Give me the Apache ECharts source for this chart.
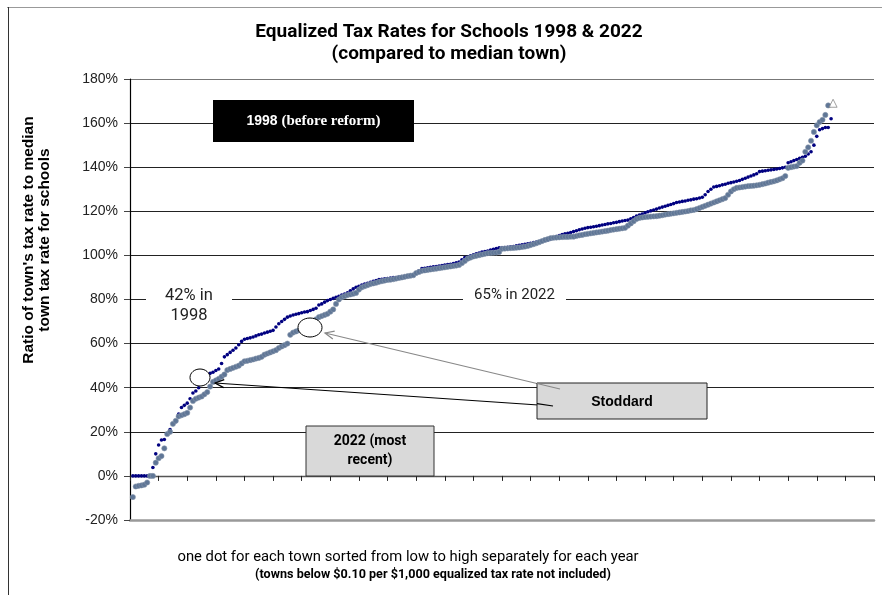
<!DOCTYPE html>
<html>
<head>
<meta charset="utf-8">
<script src="https://cdn.jsdelivr.net/npm/echarts@6/dist/echarts.min.js"></script>
<style>
html,body{margin:0;padding:0;background:#fff;}
#chart{width:882px;height:595px;}
</style>
</head>
<body>
<div id="chart"></div>
<script>
// ---- data (ratio of town's rate to median, in %) ----
const rate1998 = [
0,0,0,0,0,0,0,3.8,10,14,
16.3,16.5,19,21,23.6,24.6,28,31,32,33,
35,37.6,38.5,40,42,44,46,46.5,47,47.8,
48.5,51,54,55,56,57,58,59.5,61,62,
62.3,62.6,63,63.5,64,64.3,64.8,65.2,65.6,66,
67.5,69,70,71,72,72.5,73,73.3,73.6,74,
74.3,74.5,75,75.5,76,77.5,78,78.8,79.5,80,
80.5,81,81.5,82,82.5,83,84,84.8,85.5,86,
86.5,87,87.4,87.8,88.2,88.6,89,89.2,89.4,89.5,
89.7,89.9,90,90.2,90.4,90.5,90.7,90.9,91,92,
93,94,94.2,94.4,94.6,94.8,95,95.2,95.4,95.6,
95.8,96,96.3,96.6,97,98,99,99.3,99.8,100.3,
100.7,101.1,101.5,101.8,102,102.4,102.8,103.1,103.4,103.5,
103.6,103.7,103.9,104,104.3,104.6,104.8,105,105.3,105.5,
105.8,106,106.3,106.6,106.8,107,107.5,108,108.5,109,
109.4,109.8,110,110.4,110.8,111.2,111.6,112,112.3,112.6,
112.8,113,113.2,113.5,113.8,114,114.3,114.5,114.8,115,
115.3,115.6,115.8,116,116.6,117.2,117.8,118.3,118.8,119.3,
119.8,120.2,120.6,121,121.5,121.9,122.3,122.7,123.1,123.5,
124,124.2,124.5,124.7,125,125.2,125.5,125.7,126,126.4,
127.5,129,130,131,131.3,131.6,132,132.3,132.7,133,
133.3,133.6,134,134.5,135,135.5,136,136.5,137,138,
138.2,138.4,138.6,138.8,139,139.2,139.4,139.7,140,142,
142.5,143,143.5,144,144.5,145,146,147,150,154,
157,157.5,158,158,162
];
const rate2022 = [
-9.6,-4.8,-4.5,-4.3,-4,-3,0,0,6,8,
9,12.5,19,20,23.6,25,27,27.5,28,28.6,
31,34,35,35.5,36,37,38,40.5,42.6,43.3,
44,45,46,48,48.5,49,49.5,50,51,52,
52.2,52.5,52.8,53.2,53.5,54,55,55.5,56,56.5,
57,58,58.7,59.3,60,64,65,65.5,66,66.5,
67,68,69,70,71,72,72.5,73,73.5,74.5,
75.5,78,80,81,81.5,82,82.3,82.6,83,84.5,
85.5,86,86.5,87,87.3,87.6,88,88.3,88.6,88.9,
89,89.2,89.5,89.8,90,90.3,90.6,90.8,91,92,
92.5,93,93.2,93.4,93.6,93.8,94,94.2,94.4,94.6,
94.8,95,95.2,95.4,95.7,96.5,97.5,98.5,99,99.5,
99.8,100.1,100.4,100.7,101,101.1,101.2,101.3,101.5,103,
103.1,103.2,103.3,103.4,103.5,103.6,103.8,104,104.3,104.7,
105.1,105.5,106,106.5,107,107.4,107.8,108,108.1,108.2,
108.3,108.4,108.4,108.5,108.5,108.8,109.1,109.3,109.6,109.8,
110,110.2,110.4,110.6,110.8,111,111.2,111.5,111.7,111.9,
112.1,112.3,112.5,113.5,114.5,115.5,116.5,117,117.2,117.4,
117.5,117.6,117.7,117.8,118,118.2,118.5,118.7,118.9,119.1,
119.3,119.5,119.7,119.9,120.1,120.4,120.6,121,121.5,122,
122.5,123,123.5,124,124.5,125,125.5,126,127.5,129,
130,130.6,130.8,131,131.2,131.4,131.5,131.6,131.8,132,
132.3,132.6,133,133.3,133.6,134,134.5,135,136,139.7,
140,140.3,140.5,142,143,147,149,152,156,159,
160.5,161.5,163.7,168
];
const triangleMark = [[245.7, 169]];
const titleLines = ['Equalized Tax Rates for Schools 1998 & 2022', '(compared to median town)'];
const yAxisTitle = ["Ratio of town's tax rate to median", 'town tax rate for schools'];
const footLines = ['one dot for each town sorted from low to high separately for each year',
                   '(towns below $0.10 per $1,000 equalized tax rate not included)'];

// ---- chart ----
const chart = echarts.init(document.getElementById('chart'), null, {renderer: 'canvas'});

function arrow(x1, y1, x2, y2, color, width) {
  const dx = x2 - x1, dy = y2 - y1, L = Math.hypot(dx, dy);
  const ux = dx / L, uy = dy / L, px = -uy, py = ux;
  const hl = 9, hw = 4;
  return [
    {type: 'line', z: 110, shape: {x1, y1, x2, y2}, style: {stroke: color, lineWidth: width}},
    {type: 'polyline', z: 110, shape: {points: [
      [x2 - ux * hl + px * hw, y2 - uy * hl + py * hw], [x2, y2],
      [x2 - ux * hl - px * hw, y2 - uy * hl - py * hw]]},
     style: {stroke: color, lineWidth: width, fill: null}}
  ];
}

const FONT = 'Roboto, "Noto Sans", sans-serif';
const ARIAL = '"Liberation Sans", Arial, sans-serif';

const graphics = [
  // outer frame
  {type: 'line', z: 1, shape: {x1: 7, y1: 7.5, x2: 882, y2: 7.5}, style: {stroke: '#999', lineWidth: 1.2}},
  {type: 'line', z: 1, shape: {x1: 8.5, y1: 7, x2: 8.5, y2: 595}, style: {stroke: '#333', lineWidth: 1}},
  // title
  {type: 'text', z: 100, x: 449, y: 32, style: {text: titleLines[0], font: 'bold 19px ' + FONT, fill: '#000', textAlign: 'center', textVerticalAlign: 'middle'}},
  {type: 'text', z: 100, x: 449, y: 54, style: {text: titleLines[1], font: 'bold 19px ' + FONT, fill: '#000', textAlign: 'center', textVerticalAlign: 'middle'}},
  // y axis title
  {type: 'text', z: 100, x: 36.5, y: 240, rotation: Math.PI / 2,
   style: {text: yAxisTitle.join('\n'), font: 'bold 15.5px ' + ARIAL, lineHeight: 16, fill: '#000', textAlign: 'center', textVerticalAlign: 'middle'}},
  // footer
  {type: 'text', z: 100, x: 408, y: 557, style: {text: footLines[0], font: '14.8px ' + FONT, fill: '#000', textAlign: 'center', textVerticalAlign: 'middle'}},
  {type: 'text', z: 100, x: 433, y: 575, style: {text: footLines[1], font: 'bold 12.6px ' + FONT, fill: '#000', textAlign: 'center', textVerticalAlign: 'middle'}},
  // black box 1998
  {type: 'rect', z: 100, shape: {x: 213, y: 100, width: 201, height: 42}, style: {fill: '#000'}},
  {type: 'text', z: 101, x: 313.5, y: 121, style: {
    rich: {a: {font: 'bold 14px ' + ARIAL, fill: '#fff'}, b: {font: 'bold 15px "Liberation Serif", "Times New Roman", serif', fill: '#fff'}},
    text: '{a|1998 }{b|(before reform)}', textAlign: 'center', textVerticalAlign: 'middle'}},
  // 42% in 1998 label
  {type: 'rect', z: 100, shape: {x: 146, y: 284, width: 86, height: 40}, style: {fill: '#fff'}},
  {type: 'text', z: 101, x: 189, y: 306, style: {text: '42% in\n1998', font: '16.5px ' + FONT, lineHeight: 20, fill: '#222', textAlign: 'center', textVerticalAlign: 'middle'}},
  // 65% in 2022 label
  {type: 'rect', z: 100, shape: {x: 463, y: 285, width: 103, height: 20}, style: {fill: '#fff'}},
  {type: 'text', z: 101, x: 514.5, y: 295, style: {text: '65% in 2022', font: '15px ' + FONT, fill: '#222', textAlign: 'center', textVerticalAlign: 'middle'}},
  // 2022 box
  {type: 'rect', z: 100, shape: {x: 306, y: 426, width: 128, height: 50}, style: {fill: '#d9d9d9', stroke: '#333', lineWidth: 1}},
  {type: 'text', z: 101, x: 370, y: 451, style: {text: '2022 (most\nrecent)', font: 'bold 14px ' + FONT, lineHeight: 19, fill: '#000', textAlign: 'center', textVerticalAlign: 'middle'}},
  // ovals
  {type: 'ellipse', z: 105, shape: {cx: 200, cy: 377.5, rx: 10, ry: 8.5}, style: {fill: '#fff', stroke: '#000', lineWidth: 1}},
  {type: 'ellipse', z: 105, shape: {cx: 310, cy: 327.5, rx: 12, ry: 9.5}, style: {fill: '#fff', stroke: '#000', lineWidth: 1}},
  // arrows
  ...arrow(553, 406, 215, 383, '#000', 1.2),
  ...arrow(560, 389, 325, 333, '#888', 1.2),
  // Stoddard box
  {type: 'rect', z: 112, shape: {x: 537, y: 383, width: 170, height: 36}, style: {fill: '#d9d9d9', stroke: '#222', lineWidth: 1}},
  {type: 'text', z: 113, x: 622, y: 402, style: {text: 'Stoddard', font: 'bold 14px ' + ARIAL, fill: '#000', textAlign: 'center', textVerticalAlign: 'middle'}}
];

graphics.push(
  {type: 'line', z: 114, shape: {x1: 537, y1: 403.6, x2: 553, y2: 406}, style: {stroke: '#000', lineWidth: 1.2}},
  {type: 'line', z: 114, shape: {x1: 537, y1: 383.5, x2: 560, y2: 389}, style: {stroke: '#888', lineWidth: 1.2}}
);

const option = {
  animation: false,
  backgroundColor: '#fff',
  grid: {left: 130, right: 8, top: 79, bottom: 75, containLabel: false},
  xAxis: [
    {type: 'value', min: 0, max: 260, interval: 10,
     axisLine: {onZero: true, lineStyle: {color: '#555', width: 1.3}},
     axisTick: {show: true, length: 5, lineStyle: {color: '#222', width: 1}},
     axisLabel: {show: false}, splitLine: {show: false}},
    {type: 'value', min: 0, max: 260, position: 'bottom',
     axisLine: {onZero: false, lineStyle: {color: '#999', width: 2.5}},
     axisTick: {show: false}, axisLabel: {show: false}, splitLine: {show: false}}
  ],
  yAxis: {
    type: 'value', min: -20, max: 180, interval: 20,
    axisLine: {show: true, lineStyle: {color: '#000', width: 1.2}},
    axisTick: {show: true, length: 6, lineStyle: {color: '#444'}},
    axisLabel: {formatter: '{value}%', margin: 12, fontSize: 14, color: '#222', fontFamily: ARIAL},
    splitLine: {show: true, lineStyle: {width: 1.1,
      color: ['#999', '#555', '#222', '#222', '#222', '#222', '#222', '#222', '#222', '#222', '#777']}}
  },
  series: [
    {name: '1998', type: 'scatter', xAxisIndex: 0, symbol: 'circle', symbolSize: 3.6,
     itemStyle: {color: '#000080', opacity: 1},
     data: rate1998.map((v, i) => [i + 1, v]), z: 3},
    {name: '2022', type: 'scatter', xAxisIndex: 0, symbol: 'circle', symbolSize: 5.2,
     itemStyle: {color: '#5f7696', borderColor: '#8796ab', borderWidth: 0.6, opacity: 1},
     data: rate2022.map((v, i) => [i + 1, v]), z: 4},
    {name: 'mark', type: 'scatter', xAxisIndex: 0, symbol: 'triangle', symbolSize: 8,
     itemStyle: {color: '#fff', borderColor: '#888', borderWidth: 1},
     data: triangleMark, z: 5}
  ],
  graphic: graphics
};
chart.setOption(option);
</script>
</body>
</html>
